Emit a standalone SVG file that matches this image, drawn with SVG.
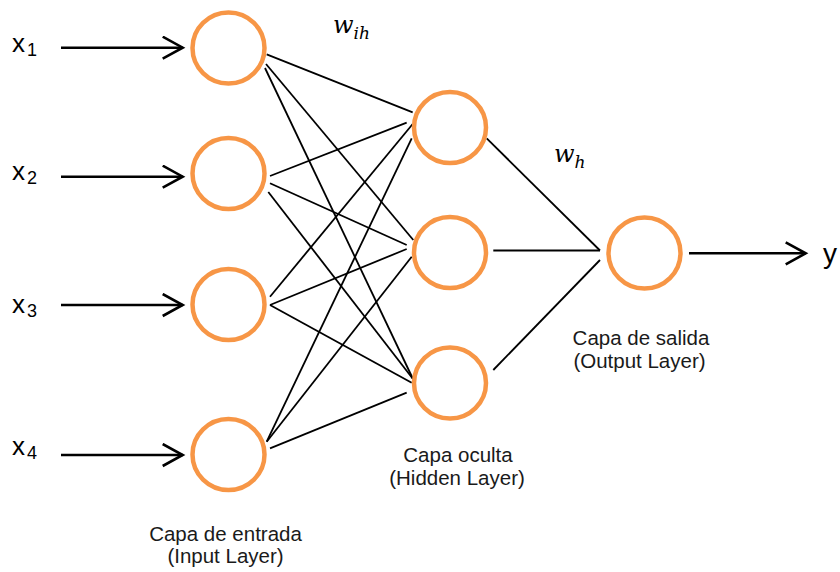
<svg xmlns="http://www.w3.org/2000/svg" width="840" height="572" viewBox="0 0 840 572">
<style>
.node{fill:none;stroke:#F79646;stroke-width:4.5}
.conn line{stroke:#000;stroke-width:1.8}
.arr{stroke:#000;stroke-width:2.6;fill:none}
.lbl{font-family:"Liberation Sans",Arial,sans-serif;fill:#000}
.cap{font-family:"Liberation Sans",Arial,sans-serif;font-size:20.5px;fill:#1a1a1a;text-anchor:middle}
.math{font-family:"DejaVu Serif","Liberation Serif",serif;font-style:italic;fill:#000}
</style>
<defs>
<marker id="ah" markerUnits="userSpaceOnUse" markerWidth="24" markerHeight="26" refX="21" refY="12" orient="auto">
<polyline points="1,1 21,12 1,23" fill="none" stroke="#000" stroke-width="2.6"/>
</marker>
</defs>
<rect width="840" height="572" fill="#fff"/>
<g id="connectors">
<g class="conn">
<line x1="266.7" y1="54.3" x2="412.7" y2="112.3"/>
<line x1="266" y1="64" x2="413.3" y2="240"/>
<line x1="265" y1="68" x2="413" y2="379"/>
<line x1="270" y1="176" x2="406.7" y2="122.7"/>
<line x1="270" y1="183.3" x2="406.7" y2="245"/>
<line x1="268.3" y1="192" x2="413" y2="379"/>
<line x1="270" y1="296.7" x2="412.7" y2="124"/>
<line x1="270" y1="305" x2="406.7" y2="249"/>
<line x1="270" y1="305" x2="411.7" y2="382.7"/>
<line x1="266.7" y1="441.7" x2="411.7" y2="138.3"/>
<line x1="266.7" y1="441.7" x2="411.7" y2="256.7"/>
<line x1="270" y1="448.3" x2="406.7" y2="392.7"/>
<line x1="486.7" y1="138.3" x2="600" y2="250.5"/>
<line x1="493.3" y1="250.5" x2="600" y2="250.5"/>
<line x1="493.3" y1="370" x2="600" y2="260"/>
</g>
<line class="arr" x1="61" y1="47.7" x2="182.7" y2="47.7" marker-end="url(#ah)"/>
<line class="arr" x1="61" y1="176.7" x2="182.7" y2="176.7" marker-end="url(#ah)"/>
<line class="arr" x1="61" y1="305" x2="182.7" y2="305" marker-end="url(#ah)"/>
<line class="arr" x1="61" y1="455" x2="182.7" y2="455" marker-end="url(#ah)"/>
<line class="arr" x1="689" y1="253.3" x2="805.7" y2="253.3" marker-end="url(#ah)"/>
</g>
<g id="input1"><ellipse class="node" cx="228.5" cy="48" rx="36" ry="35.5"/></g>
<g id="input2"><ellipse class="node" cx="228.5" cy="173.5" rx="36" ry="35.5"/></g>
<g id="input3"><ellipse class="node" cx="228.5" cy="304.5" rx="36" ry="35.5"/></g>
<g id="input4"><ellipse class="node" cx="228.5" cy="454.5" rx="36" ry="35.5"/></g>
<g id="hidden1"><ellipse class="node" cx="450" cy="127.5" rx="36" ry="35.5"/></g>
<g id="hidden2"><ellipse class="node" cx="450" cy="252.5" rx="36" ry="35.5"/></g>
<g id="hidden3"><ellipse class="node" cx="450" cy="383" rx="36" ry="35.5"/></g>
<g id="output"><ellipse class="node" cx="644.5" cy="253" rx="36" ry="35.5"/></g>
<g id="labels">
<text class="lbl" x="12" y="52.3" font-size="26">x<tspan font-size="18" x="27" y="56">1</tspan></text>
<text class="lbl" x="12" y="180" font-size="26">x<tspan font-size="18" x="27" y="184">2</tspan></text>
<text class="lbl" x="12" y="312.7" font-size="26">x<tspan font-size="18" x="27" y="316.7">3</tspan></text>
<text class="lbl" x="12" y="455" font-size="26">x<tspan font-size="18" x="27" y="459.3">4</tspan></text>
<text class="lbl" x="823" y="263" font-size="28">y</text>
<text class="math" x="333" y="33" font-size="24">w<tspan font-size="17" y="39">ih</tspan></text>
<text class="math" x="554" y="161.7" font-size="24">w<tspan font-size="17" y="168">h</tspan></text>
<text class="cap" x="225.5" y="540.5">Capa de entrada</text>
<text class="cap" x="225.5" y="563">(Input Layer)</text>
<text class="cap" x="458" y="462">Capa oculta</text>
<text class="cap" x="457" y="485">(Hidden Layer)</text>
<text class="cap" x="641" y="345">Capa de salida</text>
<text class="cap" x="639.5" y="368">(Output Layer)</text>
</g>
</svg>
